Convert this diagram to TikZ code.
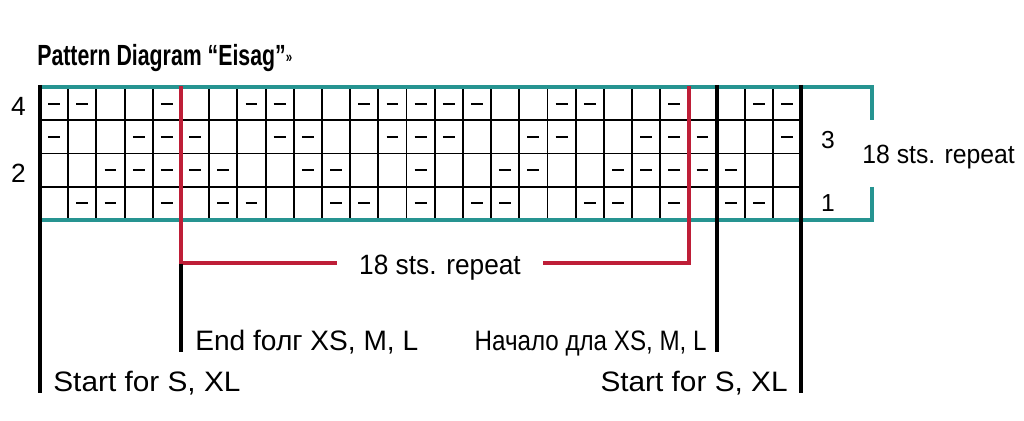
\documentclass[tikz,border=0pt]{standalone}
\usepackage{fontspec}
\setmainfont{Liberation Sans}
\newfontfamily\titlefont[FakeStretch=0.73]{Liberation Sans}
\newfontfamily\narrowfont[FakeStretch=0.86]{Liberation Sans}
\newfontfamily\widefont[FakeStretch=1.06]{Liberation Sans}
\newfontfamily\repeatfont[FakeStretch=0.94]{Liberation Sans}
\definecolor{chartteal}{RGB}{38,148,145}
\definecolor{chartred}{RGB}{190,30,55}
\tikzset{
  gridline/.style={line width=1.1pt},
  heavyline/.style={line width=2.3pt},
  redline/.style={line width=2.4pt, chartred},
  tealline/.style={line width=2.4pt, chartteal},
  purl/.style={line width=1.2pt},
  sizetext/.style={inner sep=0pt, font=\fontsize{16}{19}\selectfont},
  rownum/.style={inner sep=0pt, font=\fontsize{15}{18}\selectfont},
}
\begin{document}
\begin{tikzpicture}[x=0.02cm, y=-0.02cm]
  \useasboundingbox (0,0) rectangle (1024,421);
  % title
  \node[inner sep=0pt, anchor=base west, font=\titlefont\bfseries\fontsize{16.6}{20}\selectfont]
    (title) at (37,66) {Pattern Diagram “Eisag”{\fontsize{9}{10}\selectfont\raisebox{2pt}{»}}};
  % chart, one unit per stitch
  \begin{scope}[shift={(40,87)}, x=0.564cm, y=-0.665cm]
    \foreach \c in {1,...,26}
      \draw[gridline] (\c,0) -- (\c,4);
    \foreach \r in {1,2,3}
      \draw[gridline] (0,\r) -- (27,\r);
    % purl stitches, rows 4 down to 1
    \foreach \r/\cols in {0/{1,2,5,8,9,12,13,14,15,16,19,20,23,26,27},
                          1/{1,4,5,6,9,10,13,14,15,18,19,22,23,24,27},
                          2/{3,4,5,6,7,10,11,14,17,18,21,22,23,24,25},
                          3/{2,3,5,7,8,11,12,14,16,17,20,21,23,25,26}}
      \foreach \c in \cols
        \draw[purl] (\c-0.71,\r+0.5) -- (\c-0.29,\r+0.5);
  \end{scope}
  % row numbers
  \node[rownum] (row4) at (18.5,106.5) {4};
  \node[rownum] (row2) at (18.5,173.5) {2};
  \node[rownum, font=\fontsize{14}{17}\selectfont] (row3) at (828,140) {3};
  \node[rownum, font=\fontsize{14}{17}\selectfont] (row1) at (828,203.5) {1};
  % teal frame with the row repeat
  \coordinate (topL) at (40,87);
  \coordinate (topR) at (872,87);
  \coordinate (brkT) at (872,120);
  \coordinate (brkB) at (872,187);
  \coordinate (botR) at (872,220);
  \coordinate (botL) at (40,220);
  \draw[tealline] (topL) -- (topR) -- (brkT);
  \draw[tealline] (brkB) -- (botR) -- (botL);
  \node[inner sep=0pt, anchor=base west, font=\repeatfont\fontsize{15}{18}\selectfont]
    (siderep) at (862,164) {18 sts. repeat};
  % red stitch repeat
  \coordinate (repA) at (181,86);
  \coordinate (repB) at (689,86);
  \coordinate (repAend) at (337,263);
  \coordinate (repBend) at (543,263);
  \draw[redline] (repA) |- (repAend);
  \draw[redline] (repB) |- (repBend);
  \node[inner sep=0pt, anchor=base, font=\repeatfont\fontsize{15.9}{19}\selectfont]
    (midrep) at (440,275) {18 sts. repeat};
  % size markers
  \coordinate (mkA) at (40,85);   \coordinate (mkAend) at (40,393);
  \coordinate (mkB) at (181,264); \coordinate (mkBend) at (181,352);
  \coordinate (mkC) at (717,85);  \coordinate (mkCend) at (717,352);
  \coordinate (mkD) at (801,85);  \coordinate (mkDend) at (801,393);
  \foreach \m in {A,B,C,D}
    \draw[heavyline] (mk\m) -- (mk\m end);
  \node[sizetext, anchor=base west, font=\widefont\fontsize{16}{19}\selectfont]
    (startL) at (53,392) {Start for S, XL};
  \node[sizetext, anchor=base west] (endXS) at (195,351) {End fолг XS, M, L};
  \node[sizetext, anchor=base east, font=\narrowfont\fontsize{16}{19}\selectfont]
    (beginXS) at (707,351) {Начало дла XS, M, L};
  \node[sizetext, anchor=base east, font=\widefont\fontsize{16}{19}\selectfont]
    (startR) at (788,392) {Start for S, XL};
\end{tikzpicture}
\end{document}
